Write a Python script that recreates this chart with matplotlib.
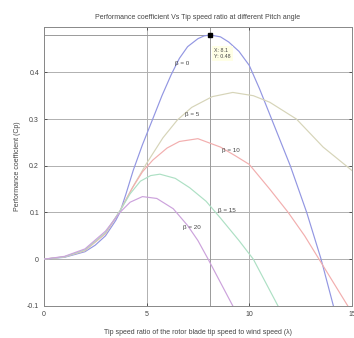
import matplotlib
matplotlib.use("Agg")
import matplotlib.pyplot as plt

# tip speed ratio / Cp values, one pair of lists per pitch angle
lam_b0 = [0, 1, 2, 2.5, 3, 3.5, 3.7, 4, 4.35, 4.8, 5.3, 5.75, 6.2, 6.6, 7, 7.5, 7.8,
          8.1, 8.6, 9, 9.5, 10, 10.5, 11, 12, 12.8, 13.5, 14.1]
cp_b0 = [0, 0.004, 0.016, 0.03, 0.05, 0.083, 0.1, 0.14, 0.19, 0.245, 0.3, 0.35, 0.395,
         0.43, 0.455, 0.472, 0.478, 0.48, 0.476, 0.465, 0.445, 0.415, 0.365, 0.31,
         0.2, 0.1, 0.0, -0.1]

lam_b5 = [0, 1, 2, 3, 3.7, 4.4, 5, 5.8, 6.5, 7.2, 8.2, 9.2, 10.2, 11, 12.3, 13.6, 15]
cp_b5 = [0, 0.005, 0.018, 0.055, 0.103, 0.16, 0.205, 0.26, 0.298, 0.325, 0.348, 0.357,
         0.35, 0.336, 0.3, 0.24, 0.19]

lam_b10 = [0, 1, 2, 3, 3.7, 4.3, 4.8, 5.3, 6, 6.6, 7.5, 8.6, 9.3, 10, 11, 11.9, 12.7,
           13.4, 14.1, 14.8]
cp_b10 = [0, 0.005, 0.019, 0.055, 0.103, 0.152, 0.187, 0.212, 0.238, 0.252, 0.258,
          0.24, 0.222, 0.203, 0.15, 0.1, 0.05, 0.0, -0.05, -0.1]

lam_b15 = [0, 1, 2, 3, 3.7, 4.2, 4.7, 5.2, 5.65, 6.4, 7.1, 7.9, 8.6, 9.5, 10.2, 10.8, 11.4]
cp_b15 = [0, 0.005, 0.02, 0.057, 0.103, 0.14, 0.167, 0.179, 0.182, 0.173, 0.153, 0.124,
          0.088, 0.04, 0.0, -0.05, -0.1]

lam_b20 = [0, 1, 2, 3, 3.7, 4.2, 4.8, 5.5, 6.3, 7, 7.5, 8, 8.6, 9.2]
cp_b20 = [0, 0.006, 0.022, 0.06, 0.1, 0.122, 0.134, 0.13, 0.108, 0.072, 0.04, 0.0,
          -0.05, -0.1]

tip_x, tip_y = 8.1, 0.48

SERIES = [
    ("\u03b2 = 0", lam_b0, cp_b0, "#9296e2", (6.75, 0.42)),
    ("\u03b2 = 5", lam_b5, cp_b5, "#d6d4b8", (7.2, 0.31)),
    ("\u03b2 = 10", lam_b10, cp_b10, "#f2aeae", (9.1, 0.233)),
    ("\u03b2 = 15", lam_b15, cp_b15, "#ade0c4", (8.9, 0.105)),
    ("\u03b2 = 20", lam_b20, cp_b20, "#cca2dc", (7.2, 0.068)),
]

plt.rcParams["font.family"] = ["Liberation Sans", "DejaVu Sans"]
TXT = "#444444"

fig = plt.figure(figsize=(3.54, 3.38), dpi=100)
ax = fig.add_axes([0.124, 0.095, 0.870, 0.825])

for name, xs, ys, color, pos in SERIES:
    ax.plot(xs, ys, color=color, linewidth=0.85, zorder=3)
    ax.text(pos[0], pos[1], name, fontsize=4.5, color=TXT, ha="center", va="center",
            zorder=5)

# data cursor
ax.axvline(tip_x, color="#9a9a9a", linewidth=0.7, zorder=2)
ax.plot([0, tip_x], [tip_y, tip_y], color="#9a9a9a", linewidth=0.7, zorder=2)
ax.plot([tip_x], [tip_y], marker="s", color="black", markersize=3.5, zorder=6)
ax.text(tip_x + 0.2, 0.44, f"X: {tip_x}\nY: {tip_y}", fontsize=3.8, color=TXT,
        ha="left", va="center", linespacing=1.1, zorder=6,
        bbox=dict(boxstyle="square,pad=0.4", facecolor="#ffffe6", edgecolor="none"))

ax.set_xlim(0, 15)
ax.set_ylim(-0.1, 0.497)
ax.set_xticks([0, 5, 10, 15])
ax.set_yticks([-0.1, 0, 0.1, 0.2, 0.3, 0.4])
ax.set_yticklabels(["-0.1", "0", "0.1", "0.2", "0.3", "0.4"])
ax.grid(True, color="#b0b0b0", linewidth=0.7)
ax.set_axisbelow(True)
ax.tick_params(direction="in", length=2.5, width=0.6, labelsize=5, colors=TXT,
               top=True, right=True)
for sp in ax.spines.values():
    sp.set_color("#888888")
    sp.set_linewidth(0.7)

ax.set_title("Performance coefficient Vs Tip speed ratio at different Pitch angle",
             fontsize=5, color=TXT, pad=6)
ax.set_xlabel("Tip speed ratio of the rotor blade tip speed to wind speed (\u03bb)",
              fontsize=5, color=TXT, labelpad=8)
ax.set_ylabel("Performance coefficient (Cp)", fontsize=5, color=TXT, labelpad=4)

fig.savefig("out.png", dpi=100)
